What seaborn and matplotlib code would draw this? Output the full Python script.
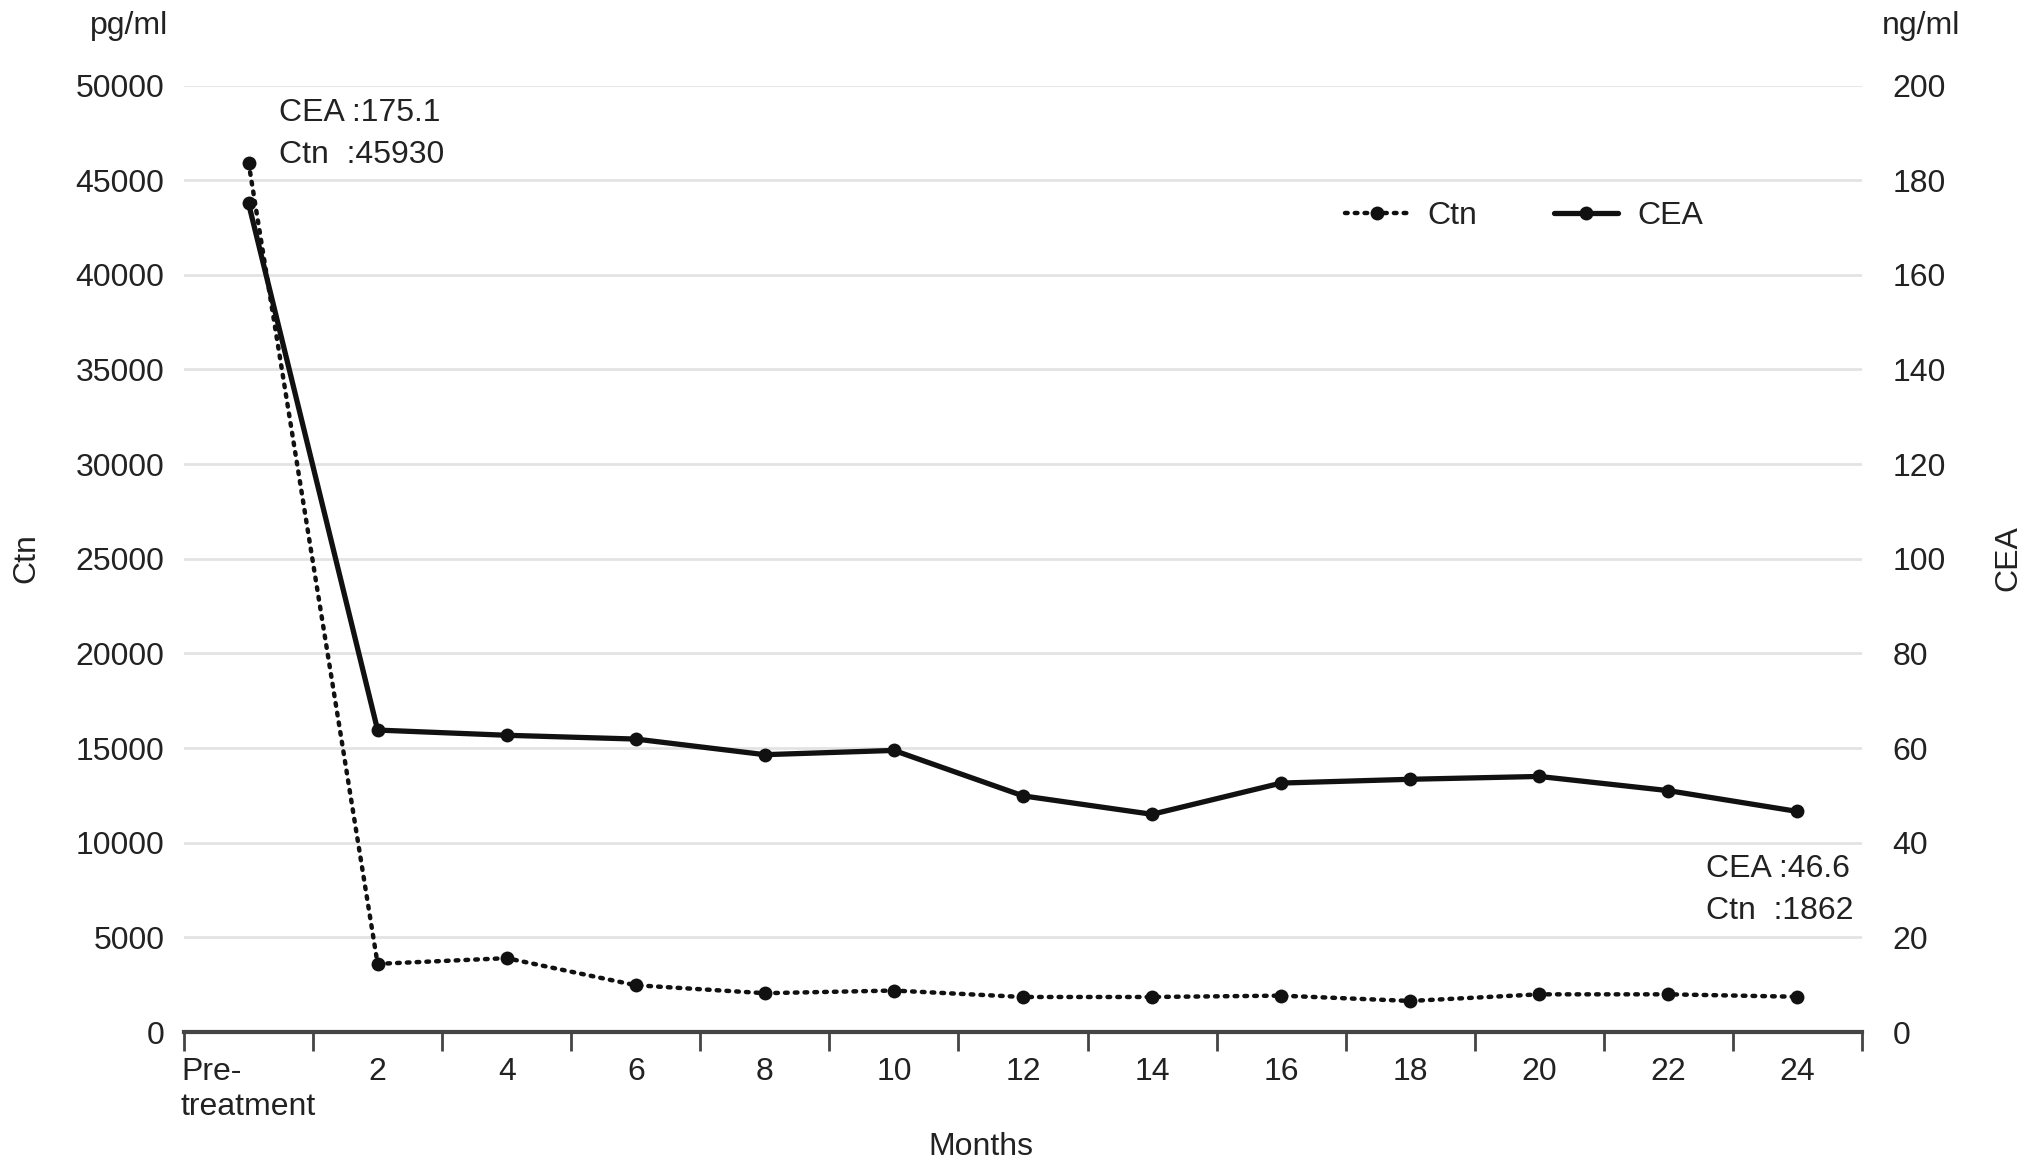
import numpy as np
import pandas as pd
import matplotlib
matplotlib.use('Agg')
import matplotlib.pyplot as plt
import seaborn as sns

# Values
months = ['Pre-\ntreatment', '2', '4', '6', '8', '10', '12', '14', '16', '18', '20', '22', '24']
ctn = [45930, 3600, 3900, 2470, 2050, 2190, 1850, 1850, 1920, 1640, 1990, 1990, 1862]
cea = [175.1, 63.8, 62.7, 61.9, 58.6, 59.5, 49.9, 46.0, 52.6, 53.4, 54.0, 51.0, 46.6]
ctn_ticks = list(range(0, 50001, 5000))
cea_ticks = list(range(0, 201, 20))

df = pd.DataFrame({'pos': np.arange(len(months)), 'month': months, 'Ctn': ctn, 'CEA': cea})

sns.set_theme(style='white')
plt.rcParams['font.family'] = ['Liberation Sans', 'DejaVu Sans']
ink = '#222222'
fs = 23

fig = plt.figure(figsize=(20.32, 11.71), dpi=100)
ax = fig.add_axes([184 / 2032, 1 - 1032 / 1171, (1862 - 184) / 2032, (1032 - 85.5) / 1171])
ax2 = ax.twinx()

sns.lineplot(data=df, x='pos', y='Ctn', ax=ax, color='#111111', linewidth=3.2,
             linestyle=(0, (0.6, 1.6)), dash_capstyle='round',
             marker='o', markersize=10, markeredgewidth=0, label='Ctn', legend=False)
sns.lineplot(data=df, x='pos', y='CEA', ax=ax2, color='#111111', linewidth=3.8,
             marker='o', markersize=10, markeredgewidth=0, label='CEA', legend=False)

ax.set_xlim(-0.5, len(months) - 0.5)
ax.set_ylim(0, 50000)
ax2.set_ylim(0, 200)
ax.set_yticks(ctn_ticks)
ax2.set_yticks(cea_ticks)
ax.set_yticklabels([str(t) for t in ctn_ticks])
ax2.set_yticklabels([str(t) for t in cea_ticks])

# gridlines on left axis values
ax.set_axisbelow(True)
ax.yaxis.grid(True, color='#e3e3e3', linewidth=2)
ax.xaxis.grid(False)
ax2.grid(False)

for a in (ax, ax2):
    for s in ('top', 'left', 'right'):
        a.spines[s].set_visible(False)
    a.spines['bottom'].set_color('#444444')
    a.spines['bottom'].set_linewidth(3)
ax2.spines['bottom'].set_visible(False)

# category labels at centres, tick marks at boundaries
ax.set_xticks(df['pos'])
ax.set_xticklabels(months, fontsize=fs, color=ink, multialignment='left')
ax.set_xticks(np.arange(-0.5, len(months)), minor=True)
ax.tick_params(axis='x', which='major', bottom=True, length=0, pad=18)
ax.tick_params(axis='x', which='minor', bottom=True, length=14, width=2, color='#444444',
               direction='out')
ax.tick_params(axis='y', length=0, pad=14, labelsize=fs, labelcolor=ink)
ax2.tick_params(axis='y', length=0, pad=22, labelsize=fs, labelcolor=ink)

ax.set_xlabel('')
ax.set_ylabel('')
ax2.set_ylabel('')

fig.text(26 / 2032, 1 - 558 / 1171, 'Ctn', rotation=90, ha='center', va='center', fontsize=fs, color=ink)
fig.text(2008 / 2032, 1 - 558 / 1171, 'CEA', rotation=90, ha='center', va='center', fontsize=fs, color=ink)
fig.text(168 / 2032, 1 - 26 / 1171, 'pg/ml', ha='right', va='center', fontsize=fs, color=ink)
fig.text(1882 / 2032, 1 - 26 / 1171, 'ng/ml', ha='left', va='center', fontsize=fs, color=ink)
fig.text(981 / 2032, 1 - 1147 / 1171, 'Months', ha='center', va='center', fontsize=fs, color=ink)

fig.text(279 / 2032, 1 - 134 / 1171, 'CEA :175.1\nCtn  :45930', ha='left', va='center',
         fontsize=fs, color=ink, linespacing=1.5)
fig.text(1853 / 2032, 1 - 890 / 1171, 'CEA :46.6\nCtn  :1862', ha='right', va='center',
         fontsize=fs, color=ink, linespacing=1.5, multialignment='left')

h1, l1 = ax.get_legend_handles_labels()
h2, l2 = ax2.get_legend_handles_labels()
ax2.legend(h1 + h2, l1 + l2, loc='center', bbox_to_anchor=(1524 / 2032, 1 - 216 / 1171),
           bbox_transform=fig.transFigure, ncol=2, frameon=False, fontsize=fs,
           handlelength=2.0, handletextpad=0.6, columnspacing=2.4, labelcolor=ink)

fig.savefig('out.png', dpi=100)
